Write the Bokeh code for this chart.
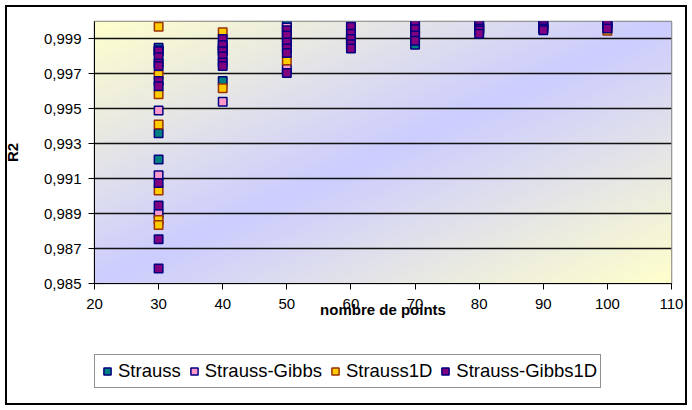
import numpy as np
from bokeh.plotting import figure
from bokeh.layouts import column
from bokeh.models import Range1d, FixedTicker, CustomJSTickFormatter, Legend, LegendItem
from bokeh.embed import file_html
from bokeh.resources import INLINE

# ---- data ----
x_ticks = [20, 30, 40, 50, 60, 70, 80, 90, 100, 110]
y_ticks = [0.985, 0.987, 0.989, 0.991, 0.993, 0.995, 0.997, 0.999]

series_names = ["Strauss", "Strauss-Gibbs", "Strauss1D", "Strauss-Gibbs1D"]

strauss_x = [30, 30, 30, 40, 40, 50, 50, 60, 60, 70, 70, 70, 80, 80, 90, 90, 100, 100]
strauss_y = [0.9985, 0.9936, 0.9921, 0.9966, 0.9984, 0.9998, 0.9990, 0.9997, 0.9989,
             0.9998, 0.9993, 0.99867, 0.9998, 0.9995, 0.9999, 0.9996, 0.9999, 0.9996]

gibbs_x = [30, 30, 30, 30, 40, 40, 50, 50, 60, 70, 80, 90, 100]
gibbs_y = [0.99835, 0.9949, 0.9912, 0.9890, 0.9985, 0.9954, 0.99965, 0.9973,
           0.9992, 0.9995, 0.9997, 0.9998, 0.9998]

s1d_x = [30, 30, 30, 30, 30, 30, 30, 40, 40, 50, 50, 60, 70, 80, 90, 100]
s1d_y = [0.9997, 0.99695, 0.99583, 0.99411, 0.99032, 0.98864, 0.98835, 0.99938, 0.99618,
         0.99777, 0.9993, 0.9990, 0.9993, 0.9996, 0.9997, 0.99947]

g1d_x = [30, 30, 30, 30, 30, 30, 30, 30, 30, 30,
         40, 40, 40, 40, 40, 40,
         50, 50, 50, 50, 50, 50,
         60, 60, 60, 60, 60,
         70, 70, 70, 70,
         80, 80, 80, 80,
         90, 90, 90, 90,
         100, 100, 100]
g1d_y = [0.9983, 0.99795, 0.9976, 0.99745, 0.9966, 0.9963, 0.99075, 0.98946, 0.98753, 0.98586,
         0.9990, 0.99865, 0.9983, 0.9980, 0.99765, 0.99745,
         0.9995, 0.9992, 0.9988, 0.99845, 0.9982, 0.99705,
         0.9997, 0.9993, 0.9990, 0.9987, 0.99845,
         0.9999, 0.99955, 0.9992, 0.9989,
         0.99995, 0.9996, 0.9995, 0.9993,
         0.9999, 0.99975, 0.9996, 0.9995,
         0.99999, 0.9998, 0.9996]

FONT = "Liberation Sans"
fills = ["#008080", "#FF99CC", "#FFCC00", "#800080"]
lines = ["#000080", "#000080", "#993300", "#000080"]

p = figure(width=692, height=340,
           x_range=Range1d(20, 110), y_range=Range1d(0.985, 1.0),
           output_backend="svg", toolbar_location=None,
           min_border_left=93, min_border_right=21, min_border_top=21, min_border_bottom=57)

# background diagonal gradient of the plot area
H, W = 131, 289
u = (np.arange(W) + 0.5) / W
vtop = 1.0 - (np.arange(H) + 0.5) / H
t = np.clip(np.abs(u[None, :] + vtop[:, None] - 1.0), 0, 1)
c0 = np.array([204, 204, 255], dtype=float)
c1 = np.array([255, 255, 204], dtype=float)
rgb = c0[None, None, :] + (c1 - c0)[None, None, :] * t[..., None]
img = np.empty((H, W), dtype=np.uint32)
view = img.view(dtype=np.uint8).reshape((H, W, 4))
view[..., 0] = rgb[..., 0].round().astype(np.uint8)
view[..., 1] = rgb[..., 1].round().astype(np.uint8)
view[..., 2] = rgb[..., 2].round().astype(np.uint8)
view[..., 3] = 255
bg = p.image_rgba(image=[img], x=20, y=0.985, dw=90, dh=0.015)
bg.level = "image"

p.background_fill_color = None
p.border_fill_color = None
p.outline_line_color = "#808080"
p.outline_line_width = 1.5

p.xgrid.visible = False
p.ygrid.grid_line_color = "#111111"
p.ygrid.grid_line_width = 1.6

p.xaxis.ticker = FixedTicker(ticks=x_ticks)
p.yaxis.ticker = FixedTicker(ticks=y_ticks)
p.yaxis.formatter = CustomJSTickFormatter(code="return tick.toFixed(3).replace('.', ',');")

for ax in (p.xaxis[0], p.yaxis[0]):
    ax.axis_line_color = "black"
    ax.major_tick_line_color = "black"
    ax.minor_tick_line_color = None
    ax.major_tick_in = 0
    ax.major_tick_out = 6
    ax.major_label_text_font = FONT
    ax.major_label_text_font_size = "15px"
    ax.major_label_text_color = "black"
    ax.axis_label_text_font = FONT
    ax.axis_label_text_font_style = "bold"
    ax.axis_label_text_font_size = "15px"
    ax.axis_label_text_color = "black"

p.xaxis.major_label_standoff = 9
p.xaxis.axis_label = "nombre de points"
p.xaxis.axis_label_standoff = -11
p.yaxis.major_label_standoff = 7
p.yaxis.axis_label = "R2"
p.yaxis.axis_label_standoff = 20

kw = dict(marker="square", size=8.5, line_width=1.5)
series = [(strauss_x, strauss_y), (gibbs_x, gibbs_y), (s1d_x, s1d_y), (g1d_x, g1d_y)]
for (xs, ys), fc, lc in zip(series, fills, lines):
    p.scatter(xs, ys, fill_color=fc, line_color=lc, **kw)

# legend strip below the chart (proxy renderers use the same data, outside this strip's range)
q = figure(width=692, height=70, x_range=Range1d(0, 1), y_range=Range1d(0, 1),
           output_backend="svg", toolbar_location=None,
           x_axis_type=None, y_axis_type=None,
           min_border_left=0, min_border_right=0, min_border_top=0, min_border_bottom=0)
q.outline_line_color = None
q.xgrid.visible = False
q.ygrid.visible = False
q.background_fill_color = None
q.border_fill_color = None

items = []
for name, (xs, ys), fc, lc in zip(series_names, series, fills, lines):
    r = q.scatter(xs, ys, fill_color=fc, line_color=lc, **kw)
    items.append(LegendItem(label=name, renderers=[r]))

legend = Legend(items=items, orientation="horizontal", location=(0, 22),
                glyph_width=18, glyph_height=18, label_standoff=2, spacing=4,
                padding=3, margin=0, label_height=26,
                label_text_font=FONT, label_text_font_size="18.5px", label_text_color="black",
                border_line_color="#222222", border_line_width=1.5,
                background_fill_color="white", background_fill_alpha=1.0)
q.add_layout(legend)

layout = column(p, q, spacing=0)
layout.styles = {"background-color": "white",
                 "box-shadow": "inset 0 0 0 5px #ffffff, inset 0 0 0 7px #000000"}

open("out.html", "w").write(file_html(layout, INLINE))
